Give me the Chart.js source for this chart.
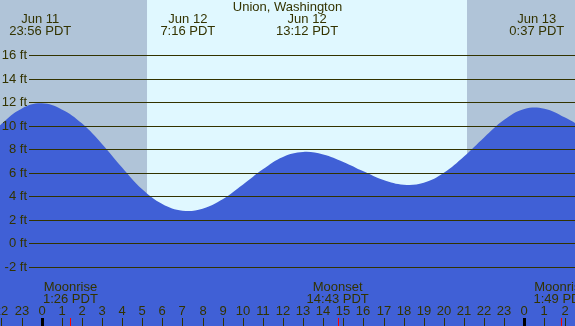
<!DOCTYPE html>
<html>
<head>
<meta charset="utf-8">
<script src="https://cdn.jsdelivr.net/npm/chart.js@4"></script>
<style>
  body { margin: 0; background: #fff; }
  canvas { display: block; }
</style>
</head>
<body>
<canvas id="tide" width="575" height="326"></canvas>
<script>
// hourly tide heights (ft); hours relative to Jun 12 00:00 PDT
var hours   = [-3, -2, -1, 0, 1, 2, 3, 4, 5, 6, 7, 8, 9, 10, 11, 12, 13, 14, 15, 16, 17, 18, 19, 20, 21, 22, 23, 24, 25, 26, 27];
var heights = [8.4, 10.15, 11.45, 11.9, 11.38, 10.2, 8.45, 6.45, 4.6, 3.35, 2.78, 2.95, 3.75, 4.98, 6.3, 7.35, 7.77, 7.55, 6.92, 6.12, 5.38, 4.98, 5.15, 6.0, 7.38, 9.0, 10.5, 11.42, 11.45, 10.72, 9.75];

// highs and lows labelled along the top
var extremeHours = [-0.07, 7.27, 13.2, 24.62];
var extremeDates = ["Jun 11", "Jun 12", "Jun 12", "Jun 13"];
var extremeTimes = ["23:56 PDT", "7:16 PDT", "13:12 PDT", "0:37 PDT"];

// sun and moon
var sunrise = 5.24, sunset = 21.15;
var moonHours = [1.43, 14.72, 25.82];
var moonNames = ["Moonrise", "Moonset", "Moonrise"];
var moonTimes = ["1:26 PDT", "14:43 PDT", "1:49 PDT"];

// axis ticks
var feetTicks = [-2, 0, 2, 4, 6, 8, 10, 12, 14, 16];
var hourTicks = [-2, -1, 0, 1, 2, 3, 4, 5, 6, 7, 8, 9, 10, 11, 12, 13, 14, 15, 16, 17, 18, 19, 20, 21, 22, 23, 24, 25, 26];

var textColor = '#333300';
var font = '13px "Liberation Sans", Arial, sans-serif';

var points = hours.map(function (h, i) { return { x: h, y: heights[i] }; });

var backdrop = {
  id: 'backdrop',
  beforeDatasetsDraw: function (chart) {
    var c = chart.ctx, x = chart.scales.x, a = chart.chartArea;
    c.save();
    c.fillStyle = '#b0c4d8';
    c.fillRect(a.left, a.top, a.right - a.left, a.bottom - a.top);
    var x1 = x.getPixelForValue(sunrise), x2 = x.getPixelForValue(sunset);
    c.fillStyle = '#e0f8ff';
    c.fillRect(x1, a.top, x2 - x1, a.bottom - a.top);
    c.restore();
  },
  afterDatasetsDraw: function (chart) {
    var c = chart.ctx, x = chart.scales.x, y = chart.scales.y, a = chart.chartArea;
    c.save();
    c.font = font;
    c.fillStyle = textColor;

    // horizontal grid + feet labels
    c.strokeStyle = textColor;
    c.lineWidth = 1;
    feetTicks.forEach(function (f) {
      var py = Math.round(y.getPixelForValue(f)) + 0.5;
      c.beginPath();
      c.moveTo(29, py);
      c.lineTo(a.right, py);
      c.stroke();
      c.textAlign = 'right';
      c.textBaseline = 'middle';
      c.fillText(f + ' ft', 27, py);
    });

    // title
    c.textAlign = 'center';
    c.textBaseline = 'middle';
    c.fillText('Union, Washington', (a.left + a.right) / 2, 7);

    // high / low labels
    extremeHours.forEach(function (h, i) {
      var px = x.getPixelForValue(h);
      c.fillText(extremeDates[i], px, 19);
      c.fillText(extremeTimes[i], px, 31);
    });

    // moon labels
    moonHours.forEach(function (h, i) {
      var px = x.getPixelForValue(h);
      c.fillText(moonNames[i], px, 287);
      c.fillText(moonTimes[i], px, 299);
    });

    // hour labels and ticks
    hourTicks.forEach(function (h) {
      var px = Math.round(x.getPixelForValue(h));
      var lbl = ((h % 24) + 24) % 24;
      c.fillStyle = textColor;
      c.fillText(String(lbl), px, 311);
      if (lbl === 0) {
        c.fillStyle = '#000000';
        c.fillRect(px - 1, 318, 3, 8);
      } else {
        c.fillStyle = textColor;
        c.fillRect(px, 318, 1, 8);
      }
    });
    c.fillStyle = '#ff0000';
    moonHours.forEach(function (h) {
      var px = Math.round(x.getPixelForValue(h));
      c.fillRect(px, 318, 1, 8);
    });
    c.restore();
  }
};

new Chart(document.getElementById('tide').getContext('2d'), {
  type: 'line',
  data: {
    datasets: [{
      data: points,
      fill: 'start',
      backgroundColor: '#4060d6',
      borderWidth: 0,
      pointRadius: 0,
      tension: 0.4
    }]
  },
  options: {
    responsive: false,
    animation: false,
    devicePixelRatio: 1,
    layout: { padding: 0 },
    plugins: { legend: { display: false }, tooltip: { enabled: false } },
    scales: {
      x: { type: 'linear', min: -2.07, max: 26.52, display: false },
      y: { min: -7.03, max: 20.69, display: false }
    }
  },
  plugins: [backdrop]
});
</script>
</body>
</html>
